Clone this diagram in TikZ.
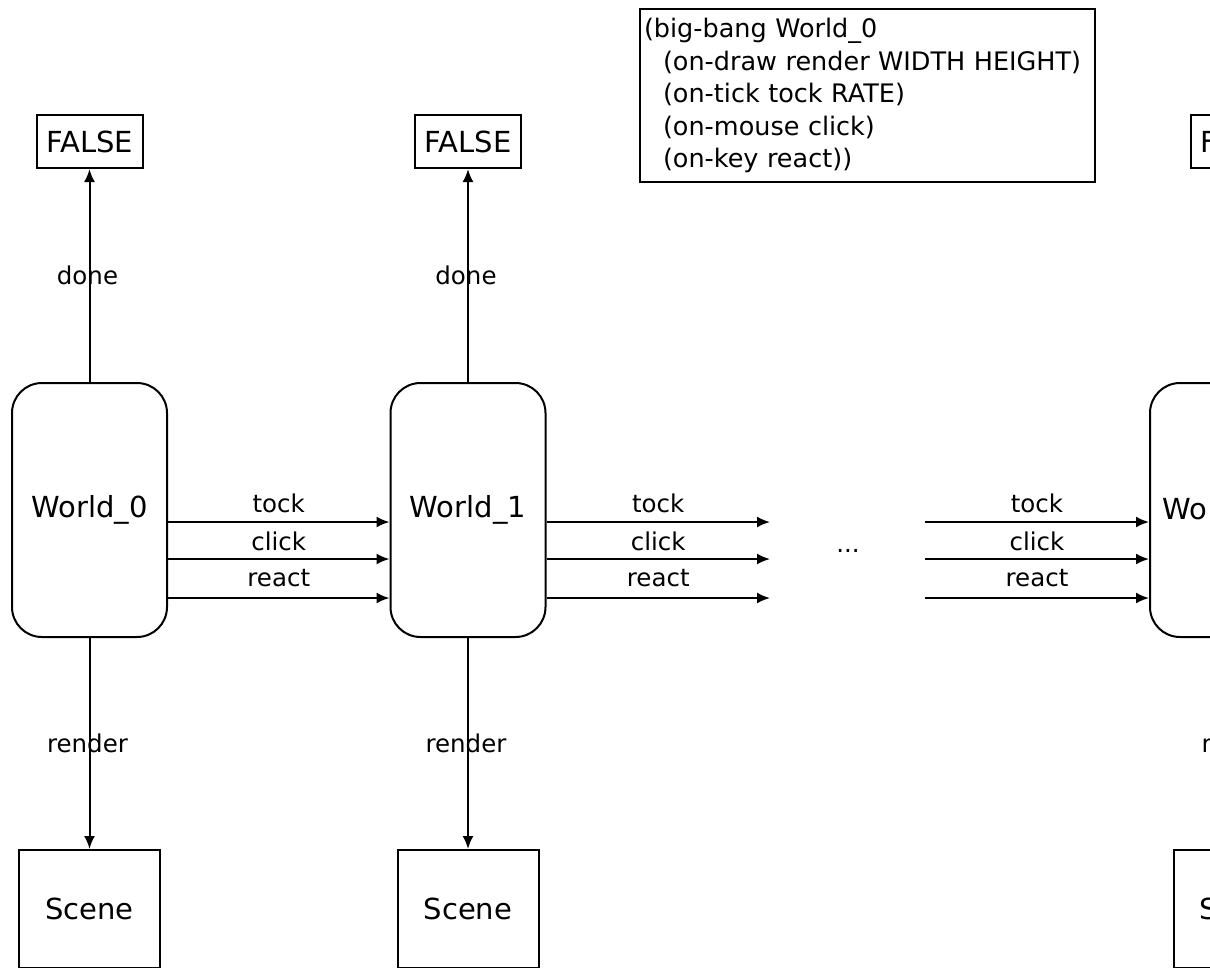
\documentclass[tikz,border=0pt]{standalone}
\usepackage{fontspec}
\setmainfont{DejaVu Sans}
\usetikzlibrary{arrows.meta}
\begin{document}
\begin{tikzpicture}[x=1pt,y=-1pt,
  big/.style={font=\fontsize{29}{34}\selectfont},
  worldbox/.style={draw, line width=2pt, rounded corners=30pt, minimum width=155pt, minimum height=254pt, inner sep=0pt, big},
  flagbox/.style={draw, line width=2pt, minimum width=106pt, minimum height=53pt, inner sep=0pt, big},
  scenebox/.style={draw, line width=2pt, minimum width=141pt, minimum height=118pt, inner sep=0pt, big},
  lbl/.style={font=\fontsize{24.5}{30}\selectfont, inner sep=0pt},
  arr/.style={line width=2pt, -{Latex[length=13pt,width=11pt]}}]
\useasboundingbox (0,0) rectangle (1210,967);
\clip (0,0) rectangle (1210,967);

% column 1
\node[flagbox] (f0) at (89.5,141.5) {FALSE};
\node[worldbox] (w0) at (89.5,510) {World\_0};
\node[scenebox] (s0) at (89.5,909) {Scene};
% column 2
\node[flagbox] (f1) at (468,141.5) {FALSE};
\node[worldbox] (w1) at (468,510) {World\_1};
\node[scenebox] (s1) at (468,909) {Scene};
% column 3
\node[flagbox] (f2) at (1244,141.5) {FALSE};
\node[worldbox, minimum width=188pt] (w2) at (1244,510) {};
\node[big, inner sep=0pt, anchor=base west] (w2t) at (1162,519) {Wo};
\node[scenebox] (s2) at (1244,909) {Scene};

% big-bang box
\node[draw, line width=2pt, anchor=north west, text width=447pt, align=left,
      inner xsep=4pt, inner ysep=0pt, minimum height=173pt,
      font=\fontsize{25.5}{32.5}\selectfont] (bb) at (639,8)
  {(big-bang World\_0\\
   \hspace*{19pt}(on-draw render WIDTH HEIGHT)\\
   \hspace*{19pt}(on-tick tock RATE)\\
   \hspace*{19pt}(on-mouse click)\\
   \hspace*{19pt}(on-key react))};

% vertical arrows
\draw[arr] (w0.north) -- node[lbl, midway, xshift=-2pt] (d0) {done} (f0.south);
\draw[arr] (w0.south) -- node[lbl, midway, xshift=-2pt] (r0) {render} (s0.north);
\draw[arr] (w1.north) -- node[lbl, midway, xshift=-2pt] (d1) {done} (f1.south);
\draw[arr] (w1.south) -- node[lbl, midway, xshift=-2pt] (r1) {render} (s1.north);
\draw[arr] (w2.north) -- (f2.south);
\draw[arr] (w2.south) -- node[lbl, midway, xshift=-2pt] (r2) {render} (s2.north);

% rows
\coordinate (ya) at (0,522);
\coordinate (yb) at (0,559);
\coordinate (yc) at (0,598);
\coordinate (e1) at (770,0);
\coordinate (e2) at (925,0);

\draw[arr] (w0.east |- ya) -- node[lbl, yshift=19pt] (ta) {tock} (w1.west |- ya);
\draw[arr] (w0.east |- yb) -- node[lbl, yshift=18pt] (ca) {click} (w1.west |- yb);
\draw[arr] (w0.east |- yc) -- node[lbl, yshift=20pt] (ra) {react} (w1.west |- yc);

\draw[arr] (w1.east |- ya) -- node[lbl, yshift=19pt] (tb) {tock} (e1 |- ya);
\draw[arr] (w1.east |- yb) -- node[lbl, yshift=18pt] (cb) {click} (e1 |- yb);
\draw[arr] (w1.east |- yc) -- node[lbl, yshift=20pt] (rb) {react} (e1 |- yc);

\draw[arr] (e2 |- ya) -- node[lbl, yshift=19pt] (tc) {tock} (w2.west |- ya);
\draw[arr] (e2 |- yb) -- node[lbl, yshift=18pt] (cc) {click} (w2.west |- yb);
\draw[arr] (e2 |- yc) -- node[lbl, yshift=20pt] (rc) {react} (w2.west |- yc);

\node[lbl] (dots) at (848,551) {...};
\end{tikzpicture}
\end{document}
